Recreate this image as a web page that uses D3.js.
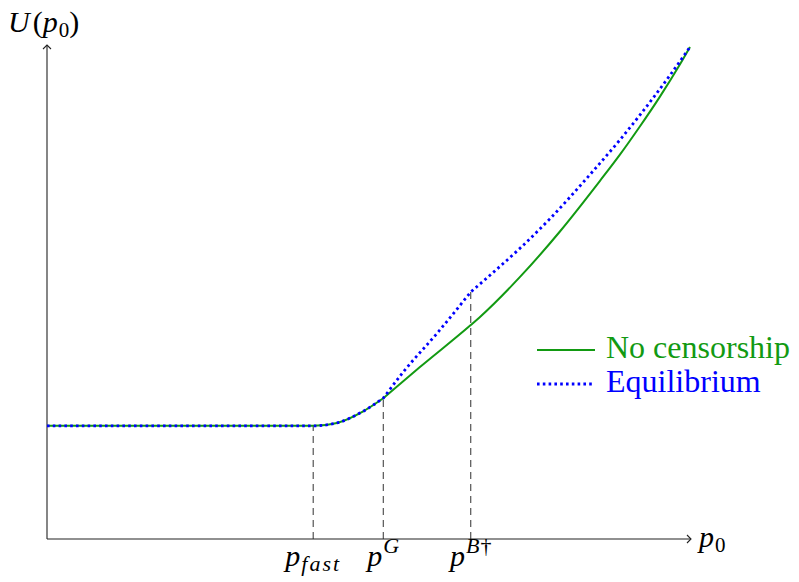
<html>
<head>
<meta charset="utf-8">
<script src="https://cdn.jsdelivr.net/npm/d3@7"></script>
<style>
  svg text, svg tspan { font-family: "Liberation Serif", "Times New Roman", "Noto Serif", "DejaVu Serif", serif !important; }
</style>
</head>
<body style="margin:0">
<div id="chart"></div>
<script>
// values (x and y both in 0..100 units)
const noCensorX = [0, 41.4, 45.1, 49.1, 52.3, 58.0, 65.9, 67.3, 73.6, 79.8, 86.0, 89.1, 92.2, 95.3, 98.4, 100];
const noCensorY = [22.9, 22.9, 23.5, 25.8, 28.5, 34.8, 43.3, 44.9, 53.1, 62.3, 72.5, 77.8, 83.5, 89.5, 96.0, 99.6];

const equilX = [0, 41.4, 45.1, 49.1, 52.3, 55.4, 60.7, 65.9, 68.9, 73.6, 78.2, 84.4, 89.1, 92.2, 96.9, 100];
const equilY = [22.9, 22.9, 23.5, 25.8, 28.5, 33.8, 41.7, 50.0, 53.4, 58.9, 64.8, 73.7, 80.8, 85.8, 93.9, 99.6];

// marked thresholds on the p0 axis and the height of their dashed guides
const markX = [41.4, 52.3, 65.9];
const markTop = [22.9, 28.5, 50.0];

const legendNames = ['No censorship', 'Equilibrium'];

const W = 799, H = 582;
const green = '#129a12', blue = '#0000ff';

const svg = d3.select('#chart').append('svg')
  .attr('width', W)
  .attr('height', H)
  .attr('font-family', 'Liberation Serif');

const x = d3.scaleLinear().domain([0, 100]).range([47, 690]);
const y = d3.scaleLinear().domain([0, 100]).range([539, 45]);

// --- dashed guides ---
svg.append('g').selectAll('line')
  .data(markX)
  .join('line')
  .attr('x1', d => x(d)).attr('x2', d => x(d))
  .attr('y1', y(0))
  .attr('y2', (d, i) => y(markTop[i]))
  .attr('stroke', '#444')
  .attr('stroke-width', 1.1)
  .attr('stroke-dasharray', '7,5');

// --- axes ---
const axis = svg.append('g').attr('stroke', '#222').attr('fill', 'none').attr('stroke-width', 1.1);
axis.append('line').attr('x1', x(0)).attr('y1', y(0)).attr('x2', x(100) + 1).attr('y2', y(0));
axis.append('line').attr('x1', x(0)).attr('y1', y(0)).attr('x2', x(0)).attr('y2', y(100));
// tikz-style arrow tips
const tx = x(100) + 1, ty = y(0);
axis.append('path')
  .attr('d', `M${tx - 4},${ty - 4} Q${tx - 1},${ty - 1} ${tx},${ty} Q${tx - 1},${ty + 1} ${tx - 4},${ty + 4}`);
const ux = x(0), uy = y(100);
axis.append('path')
  .attr('d', `M${ux - 4},${uy + 4} Q${ux - 1},${uy + 1} ${ux},${uy} Q${ux + 1},${uy + 1} ${ux + 4},${uy + 4}`);

// --- curves ---
// smooth pieces, joined at the kinks (indices of pG / pB in the arrays)
const line = d3.line().x(d => x(d[0])).y(d => y(d[1])).curve(d3.curveMonotoneX);

function piecewise(xs, ys, breaks) {
  const pts = d3.zip(xs, ys);
  const cuts = [0, ...breaks, pts.length - 1];
  let d = '';
  for (let i = 0; i < cuts.length - 1; i++) {
    const seg = line(pts.slice(cuts[i], cuts[i + 1] + 1));
    d += i === 0 ? seg : seg.replace(/^M[^CLQ]*/, '');
  }
  return d;
}

svg.append('path')
  .attr('d', piecewise(noCensorX, noCensorY, [4]))
  .attr('fill', 'none')
  .attr('stroke', green)
  .attr('stroke-width', 2);

svg.append('path')
  .attr('d', piecewise(equilX, equilY, [4, 7]))
  .attr('fill', 'none')
  .attr('stroke', blue)
  .attr('stroke-width', 2.8)
  .attr('stroke-dasharray', '2.6,3.2');

function label(parent, px, py, size) {
  return parent.append('text')
    .attr('x', px).attr('y', py)
    .attr('font-size', size);
}

// --- axis labels ---
const ylab = label(svg, 8, 32, 30);
ylab.append('tspan').attr('font-style', 'italic').text('U');
ylab.append('tspan').attr('dx', 3).text('(');
ylab.append('tspan').attr('font-style', 'italic').text('p');
ylab.append('tspan').attr('font-size', 21).attr('dy', 5).attr('dx', 1).text('0');
ylab.append('tspan').attr('dy', -5).text(')');

const xlab = label(svg, 699, 547, 30);
xlab.append('tspan').attr('font-style', 'italic').text('p');
xlab.append('tspan').attr('font-size', 21).attr('dy', 5).attr('dx', 1).text('0');

// --- tick labels under the guides ---
const t0 = label(svg, x(markX[0]), 566, 30).attr('text-anchor', 'middle');
t0.append('tspan').attr('font-style', 'italic').text('p');
t0.append('tspan').attr('font-style', 'italic').attr('font-size', 22).attr('letter-spacing', 2)
  .attr('dy', 5).attr('dx', 1).text('fast');

const t1 = label(svg, x(markX[1]), 566, 30).attr('text-anchor', 'middle');
t1.append('tspan').attr('font-style', 'italic').text('p');
t1.append('tspan').attr('font-style', 'italic').attr('font-size', 22).attr('dy', -13).attr('dx', 1).text('G');

const t2 = label(svg, x(markX[2]), 566, 30).attr('text-anchor', 'middle');
t2.append('tspan').attr('font-style', 'italic').text('p');
t2.append('tspan').attr('font-style', 'italic').attr('font-size', 22).attr('dy', -13).attr('dx', 1).text('B');
t2.append('tspan').attr('font-size', 22).attr('dx', 1).text('†');

// --- legend ---
const legend = svg.append('g');
legend.append('line')
  .attr('x1', 537).attr('x2', 595).attr('y1', 350).attr('y2', 350)
  .attr('stroke', green).attr('stroke-width', 2);
legend.append('line')
  .attr('x1', 537).attr('x2', 595).attr('y1', 384).attr('y2', 384)
  .attr('stroke', blue).attr('stroke-width', 2.8).attr('stroke-dasharray', '2.6,3.2');
label(legend, 606, 358, 32).attr('fill', green).text(legendNames[0]);
label(legend, 606, 392, 32).attr('fill', blue).text(legendNames[1]);
</script>
</body>
</html>
